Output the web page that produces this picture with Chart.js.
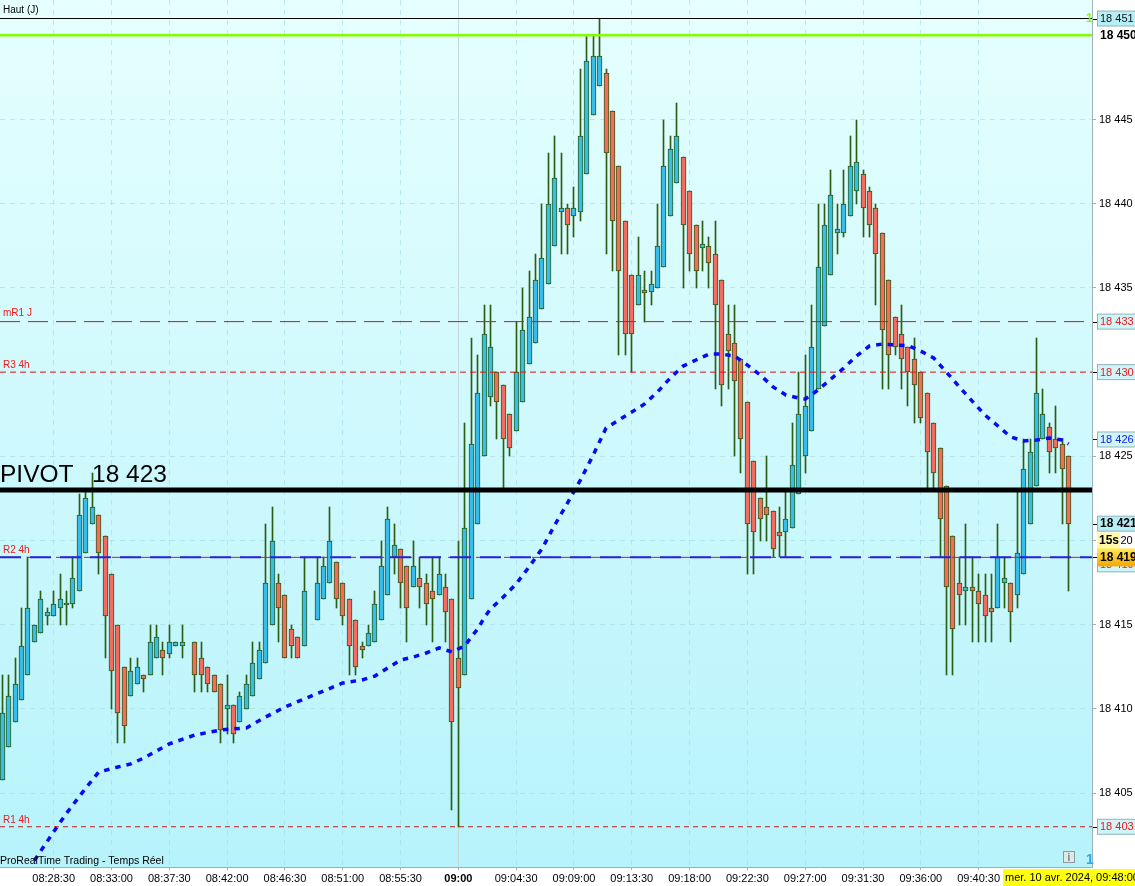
<!DOCTYPE html>
<html lang="fr">
<head>
  <meta charset="UTF-8">
  <title>ProRealTime Trading - Temps Réel</title>
  <script src="https://cdn.jsdelivr.net/npm/chart.js"></script>
  <style>
    html, body { margin: 0; padding: 0; background: #fff; overflow: hidden; }
    canvas { display: block; }
  </style>
</head>
<body>
  <canvas id="myChart" width="1135" height="886"></canvas>

  <script>
    // 30 second candles, null = no bar for that slot
    const opens = [
      18405.75,18407.75,18409.25,18410.5,18412,18414,18414.5,18415.5,18415.5,18416,
      18416.2,18416.25,18417,18419.25,18421,18421.5,18420.25,18418,18415,18412.5,
      18410.75,18411.5,18412,18412,18413,18413.5,18413.25,18413.75,18413.75,null,
      18414,18413,18412.5,18412,18411.5,18410,18410.25,18409.25,18410,18410.75,
      18411.75,18412.75,18415,18417.5,18416.75,18414.75,18414.25,18413.75,null,18415.25,
      18416.5,18417.5,18418.75,18417.5,18416.5,18415.25,18413.75,18413.75,18414,18415.25,
      18416.75,18419,18419.5,18418.5,18417.25,18417.75,18417.5,18417,18416.75,18417.25,
      18416.5,18413,18412,18416.5,18421,18425,18428.5,18430,18429.25,18427.5,
      18426.5,18428.25,18430.5,18431.75,18433.75,18435.25,18437.5,18439.5,18439.75,18439.25,
      18439.5,18441.75,18445.25,18447,18447.75,18445.5,18442.25,18439,18435.75,18434,
      18434.85,18434.75,18435,18436.25,18439.25,18441.25,18442.75,18440.75,18438.75,18437.4,
      18437.5,18437,18435.5,18432.25,18431.75,18430.75,18428.25,18424.75,18422.5,18422,
      18421.75,18420.5,18420.5,18420.75,18422.75,18425,18426.5,18429,18432.75,18435.75,
      18438.25,18438.25,18439.25,18440.75,18441.75,18440.75,18439.75,18438.25,18435.5,18433.25,
      18432.25,18431.5,18430.75,18430,18428.75,18427,18425.5,18423.25,18420.25,18417.5,
      18417,18417.25,18417,18416.75,18416,18416,18417.5,18417.5,18416.75,18418,
      18421,18423.25,18426,18426.75,18426,18425.75,18425
    ];
    const highs = [
      18412,18412,18413,18416,18419,18415,18417,18416,18417,18418,
      18417,18419,18422.75,18423,18424,18421.5,18420.25,18418,18415,18412.5,
      18413,18413,18412,18415,18415,18414,18415,18414,18415,null,
      18414,18414,18412.5,18412,18411.5,18412,18410.25,18411,18412,18414,
      18414,18421,18422,18418,18416.75,18415,18414.25,18419,null,18419,
      18419,18422,18418.75,18417.5,18416.5,18415.25,18414,18415,18417,18420,
      18422,18421,18419.5,18418.5,18420,18419,18418,18419,18419,18418,
      18416.5,18420,18427,18432,18431,18434,18434,18430,18429.25,18427.5,
      18433,18435,18436,18437,18440,18443,18444,18443,18440,18441,
      18448,18450,18450,18451,18448,18445.5,18442.25,18439,18435.75,18438,
      18436,18436,18440,18445,18444,18446,18442.75,18440.75,18438.75,18439,
      18438,18439,18435.5,18434,18434,18430.75,18428.25,18424.75,18422.5,18425,
      18421.75,18422,18423,18427,18430,18431,18434,18440,18440,18442,
      18440,18442,18444,18445,18442,18441,18440,18438.25,18435.5,18433.25,
      18434,18431.5,18432,18430,18428.75,18427,18425.5,18423.25,18420.25,18419,
      18421,18419,18418,18418,18418,18421,18419,18417.5,18423,18426,
      18426,18432,18429,18427,18428,18426,18425
    ];
    const lows = [
      18405.75,18407.75,18409.25,18410.5,18412,18414,18414.5,18415,18415.5,18415,
      18415,18416,18417,18419.25,18421,18418,18413,18410,18408,18408,
      18410.75,18411.5,18411,18412,18413,18412,18413,18413.75,18413,null,
      18411,18411,18411,18411,18408,18408.5,18408,18409.25,18410,18410.75,
      18411.75,18412.75,18415,18414,18413,18413,18413,18413.75,null,18415.25,
      18416.5,18417.5,18416,18415,18412,18412,18413,18413.75,18414,18415.25,
      18416.75,18418,18416,18414,18417.25,18416,18415,18414,18416.75,18414,
      18404,18403,18412,18416.5,18421,18425,18428,18426,18423,18425,
      18426.5,18428.25,18430.5,18431.75,18433.75,18435.25,18437.5,18437,18437,18438,
      18439,18441.75,18445.25,18447,18437,18436,18431,18431,18430,18434,
      18433,18434,18435,18436.25,18439.25,18441.25,18435,18436,18435,18436,
      18435,18429,18428,18429,18425,18424,18418,18418,18420,18420,
      18419,18419,18419,18420.75,18422.75,18424,18426.5,18429,18432.75,18435.75,
      18437,18438,18439.25,18440,18438,18438,18434,18429,18429,18431,
      18429,18428,18427,18427,18423,18423,18419,18412,18412,18415,
      18415,18414,18414,18414,18414,18416,18416,18414,18416,18418,
      18421,18423.25,18426,18424,18424,18421,18417
    ];
    const closes = [
      18409.75,18410.75,18411.5,18413.75,18416,18415,18416.5,18415.75,18416.25,18416.5,
      18416.3,18417.75,18421.5,18422.5,18422,18419.25,18415.5,18412.25,18409.75,18409,
      18412.25,18412.5,18411.75,18414,18414.25,18413,18414,18414,18414,null,
      18412,18412,18411.5,18411,18408.75,18410.25,18408.5,18410.75,18411.5,18412.75,
      18413.5,18417.5,18420,18416,18413,18413.75,18413,18417,null,18417.5,
      18418.5,18420,18416.5,18415.5,18413.75,18412.5,18413.5,18414.5,18416.25,18418.5,
      18421.25,18419.75,18417.5,18416,18418.5,18417.25,18416.25,18416.5,18418,18415.75,
      18409.25,18411.25,18420.75,18425.75,18428.75,18432.25,18431.5,18428.25,18426,18425.5,
      18430,18432.5,18433.25,18435.5,18436.75,18440,18441.5,18439.75,18438.75,18439.75,
      18444,18448.5,18448.75,18448.75,18443,18439,18436,18432.25,18432.25,18435.75,
      18434.7,18435.25,18437.5,18442.25,18443.25,18444,18438.75,18437,18436,18437.6,
      18436.5,18434,18429.25,18431.25,18429.5,18426,18421,18420.5,18421.25,18421.5,
      18419.5,18420.25,18421.25,18424.5,18427.5,18428,18431.5,18436.25,18438.75,18440.5,
      18438.5,18440,18442.25,18442.5,18439.75,18438.75,18437,18432.5,18431,18431.5,
      18430.75,18430,18429.25,18427.25,18425.25,18424,18421.25,18417.25,18414.75,18416.75,
      18417.25,18417,18416.25,18415.5,18415.75,18419,18417.75,18415.75,18419.25,18424.25,
      18425.25,18428.75,18427.5,18425.25,18425.5,18424.25,18421
    ];

    // moving average, read every couple of bars
    const maBars = [
      5,8,10,13,15,18,20,22,26,30,34,38,41,44,47,50,53,56,58,60,62,64,66,68,70,72,73,74,75,76,
      78,80,82,84,86,88,90,92,94,96,98,100,102,104,106,108,110,112,114,116,118,120,122,124,125,
      127,129,131,133,135,137,139,141,143,145,147,149,151,153,155,157,159,161,163,165,166
    ];
    const maValues = [
      18401,18402.7,18403.8,18405.3,18406.25,18406.55,18406.73,18407.08,18407.92,18408.45,
      18408.75,18408.87,18409.52,18410.11,18410.59,18411.06,18411.54,18411.72,18411.95,18412.43,
      18412.9,18413.08,18413.32,18413.62,18413.38,18413.74,18414.27,18414.74,18415.4,18415.93,
      18416.64,18417.42,18418.43,18419.5,18420.92,18422.23,18423.59,18425.08,18426.68,18427.16,
      18427.63,18428.11,18428.82,18429.65,18430.36,18430.72,18431.07,18431.07,18430.96,18430.42,
      18429.83,18429.12,18428.64,18428.46,18428.4,18428.94,18429.59,18430.24,18430.96,18431.55,
      18431.67,18431.61,18431.58,18431.25,18430.84,18430,18429.12,18428.28,18427.45,18426.8,
      18426.15,18425.91,18425.97,18426.09,18425.97,18425.73
    ];

    const tickBars = [8,17,26,35,44,53,62,71,80,89,98,107,116,125,134,143,152];
    const tickLabels = [
      '08:28:30','08:33:00','08:37:30','08:42:00','08:46:30','08:51:00','08:55:30','09:00',
      '09:04:30','09:09:00','09:13:30','09:18:00','09:22:30','09:27:00','09:31:30','09:36:00','09:40:30'
    ];
    const priceTicks = [18405,18410,18415,18420,18425,18430,18435,18440,18445];

    // price levels
    const highDay = 18451;
    const greenLevel = 18450;
    const mR1 = 18433;
    const r3 = 18430;
    const pivot = 18423;
    const r2 = 18419;
    const r1 = 18403;
    const lastPrice = 18421;
    const maLast = 18426;

    const xMin = -0.358, xMax = 169.65;
    const yMin = 18400.61, yMax = 18452.1;

    const WICK = '#2b5d12', UP = '#37bdea', DOWN = '#f66b5f';

    function formatPrice(p) {
      const s = String(p);
      return s.slice(0, 2) + ' ' + s.slice(2);
    }

    const wickData = [], bodyData = [], bodyFill = [];
    opens.forEach((o, i) => {
      if (o === null) return;
      wickData.push({ x: i, y: [lows[i], highs[i]] });
      bodyData.push({ x: i, y: [o, closes[i]] });
      bodyFill.push(closes[i] >= o ? UP : DOWN);
    });

    function level(value) {
      return [{ x: xMin, y: value }, { x: xMax, y: value }];
    }
    function levelSet(value, color, width, dash, order) {
      return {
        type: 'line', data: level(value), borderColor: color, borderWidth: width,
        borderDash: dash, pointRadius: 0, order: order
      };
    }

    // stops a scale asking the layout for room round its outer labels
    function noPadding(scale) {
      scale.paddingTop = scale.paddingBottom = scale.paddingLeft = scale.paddingRight = 0;
    }

    // background gradient under everything
    const backdrop = {
      id: 'backdrop',
      beforeDraw(chart) {
        const { ctx, chartArea: a } = chart;
        const g = ctx.createLinearGradient(0, a.top, 0, a.bottom);
        g.addColorStop(0, '#e6ffff');
        g.addColorStop(1, '#b7f3fb');
        ctx.save();
        ctx.fillStyle = g;
        ctx.fillRect(a.left, a.top, a.right - a.left, a.bottom - a.top);
        ctx.restore();
      }
    };

    // snap candles to whole pixels so borders stay crisp, like the platform does
    const pixelSnap = {
      id: 'pixelSnap',
      afterDatasetsUpdate(chart) {
        chart.getSortedVisibleDatasetMetas().forEach(meta => {
          if (meta.type !== 'bar') return;
          meta.data.forEach(el => {
            el.x = Math.floor(el.x) + 0.5;
            el.y = Math.round(el.y);
            el.base = Math.round(el.base);
            if (Math.abs(el.base - el.y) < 2) el.base = el.y + 2;
          });
        });
      }
    };

    function priceBox(ctx, y, text, color, fill, bold) {
      ctx.fillStyle = fill;
      ctx.strokeStyle = '#8fb4bd';
      ctx.lineWidth = 1;
      ctx.fillRect(1097.5, y - 7.5, 40, 15);
      ctx.strokeRect(1097.5, y - 7.5, 40, 15);
      ctx.fillStyle = color;
      ctx.font = (bold ? 'bold 12px' : '11px') + ' "Liberation Sans", Arial, sans-serif';
      ctx.fillText(text, 1100, y + 0.5);
    }

    // level names, price boxes and the rest of the platform's text
    const overlay = {
      id: 'overlay',
      afterDraw(chart) {
        const { ctx, scales: { y: yScale }, chartArea: a } = chart;
        const py = v => yScale.getPixelForValue(v);
        const font = '"Liberation Sans", Arial, sans-serif';
        ctx.save();
        ctx.textBaseline = 'middle';
        ctx.textAlign = 'left';

        ctx.font = '10px ' + font;
        ctx.fillStyle = '#000';
        ctx.fillText('Haut (J)', 3, 10);
        ctx.fillStyle = '#f01818';
        ctx.fillText('mR1 J', 3, py(mR1) - 8);
        ctx.fillText('R3 4h', 3, py(r3) - 7);
        ctx.fillText('R2 4h', 3, py(r2) - 7);
        ctx.fillText('R1 4h', 3, py(r1) - 7);

        ctx.font = '24.5px ' + font;
        ctx.fillStyle = '#000';
        ctx.fillText('PIVOT', 0, py(pivot) - 15);
        ctx.fillText(formatPrice(pivot), 92, py(pivot) - 15);

        ctx.font = '10.5px ' + font;
        ctx.fillStyle = '#000';
        ctx.fillText('ProRealTime Trading - Temps Réel', 0, 861);

        // axis edge
        ctx.strokeStyle = '#9cb0b8';
        ctx.lineWidth = 1;
        ctx.beginPath();
        ctx.moveTo(a.right + 0.5, 0);
        ctx.lineTo(a.right + 0.5, a.bottom + 0.5);
        ctx.lineTo(0, a.bottom + 0.5);
        ctx.stroke();

        // little marks joining the levels to their boxes
        [[highDay, '#000'], [mR1, '#000'], [r3, '#000'], [r1, '#000'], [maLast, '#00f'], [lastPrice, '#000'], [r2, '#000']].forEach(m => {
          ctx.strokeStyle = m[1];
          ctx.beginPath();
          ctx.moveTo(a.right + 1, Math.round(py(m[0])) + 0.5);
          ctx.lineTo(a.right + 5, Math.round(py(m[0])) + 0.5);
          ctx.stroke();
        });

        priceBox(ctx, py(highDay), formatPrice(highDay), '#111', '#b7eef6', false);
        ctx.font = 'bold 12px ' + font;
        ctx.fillStyle = '#000';
        ctx.fillText(formatPrice(greenLevel), 1100, py(greenLevel));
        ctx.fillStyle = '#80ff00';
        ctx.fillText('1', 1086, py(highDay));

        priceBox(ctx, py(mR1), formatPrice(mR1), '#f01818', '#cff5f8', false);
        priceBox(ctx, py(r3), formatPrice(r3), '#f01818', '#cff5f8', false);
        priceBox(ctx, py(maLast), formatPrice(maLast), '#1020f0', '#cff5f8', false);
        priceBox(ctx, py(r2) + 7, formatPrice(r2), '#f01818', '#cff5f8', false);
        priceBox(ctx, py(r1), formatPrice(r1), '#f01818', '#cff5f8', false);
        priceBox(ctx, py(lastPrice), formatPrice(lastPrice), '#000', '#b7eef6', true);

        // countdown and current price tags
        const tag = ctx.createLinearGradient(0, py(r2) - 9, 0, py(r2) + 9);
        tag.addColorStop(0, '#ffe95a');
        tag.addColorStop(1, '#f2a800');
        ctx.fillStyle = '#fff9a8';
        ctx.fillRect(1097, py(18420) - 8, 23, 17);
        ctx.fillStyle = tag;
        ctx.fillRect(1097, py(r2) - 9, 38, 18);
        ctx.fillStyle = '#000';
        ctx.font = 'bold 12px ' + font;
        ctx.fillText('15s', 1099, py(18420) + 0.5);
        ctx.fillText(formatPrice(r2), 1100, py(r2) + 0.5);

        // date tag, bottom right
        ctx.fillStyle = '#ffff10';
        ctx.fillRect(1003, 869, 132, 17);
        ctx.fillStyle = '#000';
        ctx.font = '11px ' + font;
        ctx.fillText('mer. 10 avr. 2024, 09:48:00', 1005, 878);

        // info box + bar count
        ctx.fillStyle = '#dfe8ea';
        ctx.fillRect(1063, 851, 12, 12);
        ctx.strokeStyle = '#8c9a9e';
        ctx.strokeRect(1063.5, 851.5, 11, 11);
        ctx.fillStyle = '#6f7c80';
        ctx.font = 'bold 10px ' + font;
        ctx.fillText('i', 1067.5, 858);
        ctx.fillStyle = '#2aa8e8';
        ctx.font = 'bold 14px ' + font;
        ctx.fillText('1', 1086, 860);
        ctx.restore();
      }
    };

    new Chart(document.getElementById('myChart').getContext('2d'), {
      type: 'bar',
      data: {
        datasets: [
          levelSet(pivot, '#000', 5, [], 0),
          {
            type: 'line', data: maBars.map((b, i) => ({ x: b, y: maValues[i] })),
            borderColor: '#0a0af0', borderWidth: 3.5, borderDash: [5.5, 6],
            pointRadius: 0, tension: 0, order: 1
          },
          levelSet(r2, '#2222dd', 2, [21, 9], 2),
          levelSet(r2, '#e01414', 1, [20, 8], 3),
          levelSet(r3, '#f01010', 1, [6, 4], 3),
          levelSet(r1, '#c81818', 1, [5, 4], 3),
          levelSet(mR1, '#e01010', 1, [20, 8], 3),
          levelSet(highDay, '#000', 1, [], 3),
          levelSet(greenLevel, '#80ff00', 2.5, [], 3),
          {
            data: bodyData, backgroundColor: bodyFill, borderColor: WICK, borderWidth: 1,
            borderSkipped: false, barThickness: 5, stack: 'candle', order: 4
          },
          {
            data: wickData, backgroundColor: WICK, borderWidth: 0,
            barThickness: 1, stack: 'candle', order: 5
          }
        ]
      },
      options: {
        responsive: false,
        animation: false,
        devicePixelRatio: 1,
        layout: { padding: 0 },
        plugins: { legend: { display: false }, tooltip: { enabled: false } },
        scales: {
          x: {
            type: 'linear', min: xMin, max: xMax, offset: false,
            afterBuildTicks(scale) { scale.ticks = tickBars.map(v => ({ value: v })); },
            afterFit(scale) { scale.height = 19; noPadding(scale); },
            grid: {
              color: ctx => (ctx.tick && ctx.tick.value === 71 ? '#c3d8dc' : 'rgba(160,215,225,0.55)'),
              tickColor: '#9cb0b8', tickLength: 3, offset: false
            },
            border: {
              display: false,
              dash: ctx => (ctx.tick && ctx.tick.value === 71 ? [] : [5, 5])
            },
            ticks: {
              autoSkip: false, maxRotation: 0, padding: 2, color: '#000',
              font: ctx => ({
                family: '"Liberation Sans", Arial, sans-serif', size: 11,
                weight: ctx.tick && ctx.tick.value === 71 ? 'bold' : 'normal'
              }),
              callback: v => tickLabels[tickBars.indexOf(v)]
            }
          },
          y: {
            position: 'right', min: yMin, max: yMax, stacked: false,
            afterBuildTicks(scale) { scale.ticks = priceTicks.map(v => ({ value: v })); },
            afterFit(scale) { scale.width = 43; noPadding(scale); },
            grid: { color: 'rgba(160,215,225,0.55)', tickColor: '#9cb0b8', tickLength: 4 },
            border: { display: false, dash: [5, 5] },
            ticks: {
              padding: 3, color: '#000', crossAlign: 'near',
              font: { family: '"Liberation Sans", Arial, sans-serif', size: 11 },
              callback: v => formatPrice(v)
            }
          }
        }
      },
      plugins: [backdrop, pixelSnap, overlay]
    });
  </script>
</body>
</html>
